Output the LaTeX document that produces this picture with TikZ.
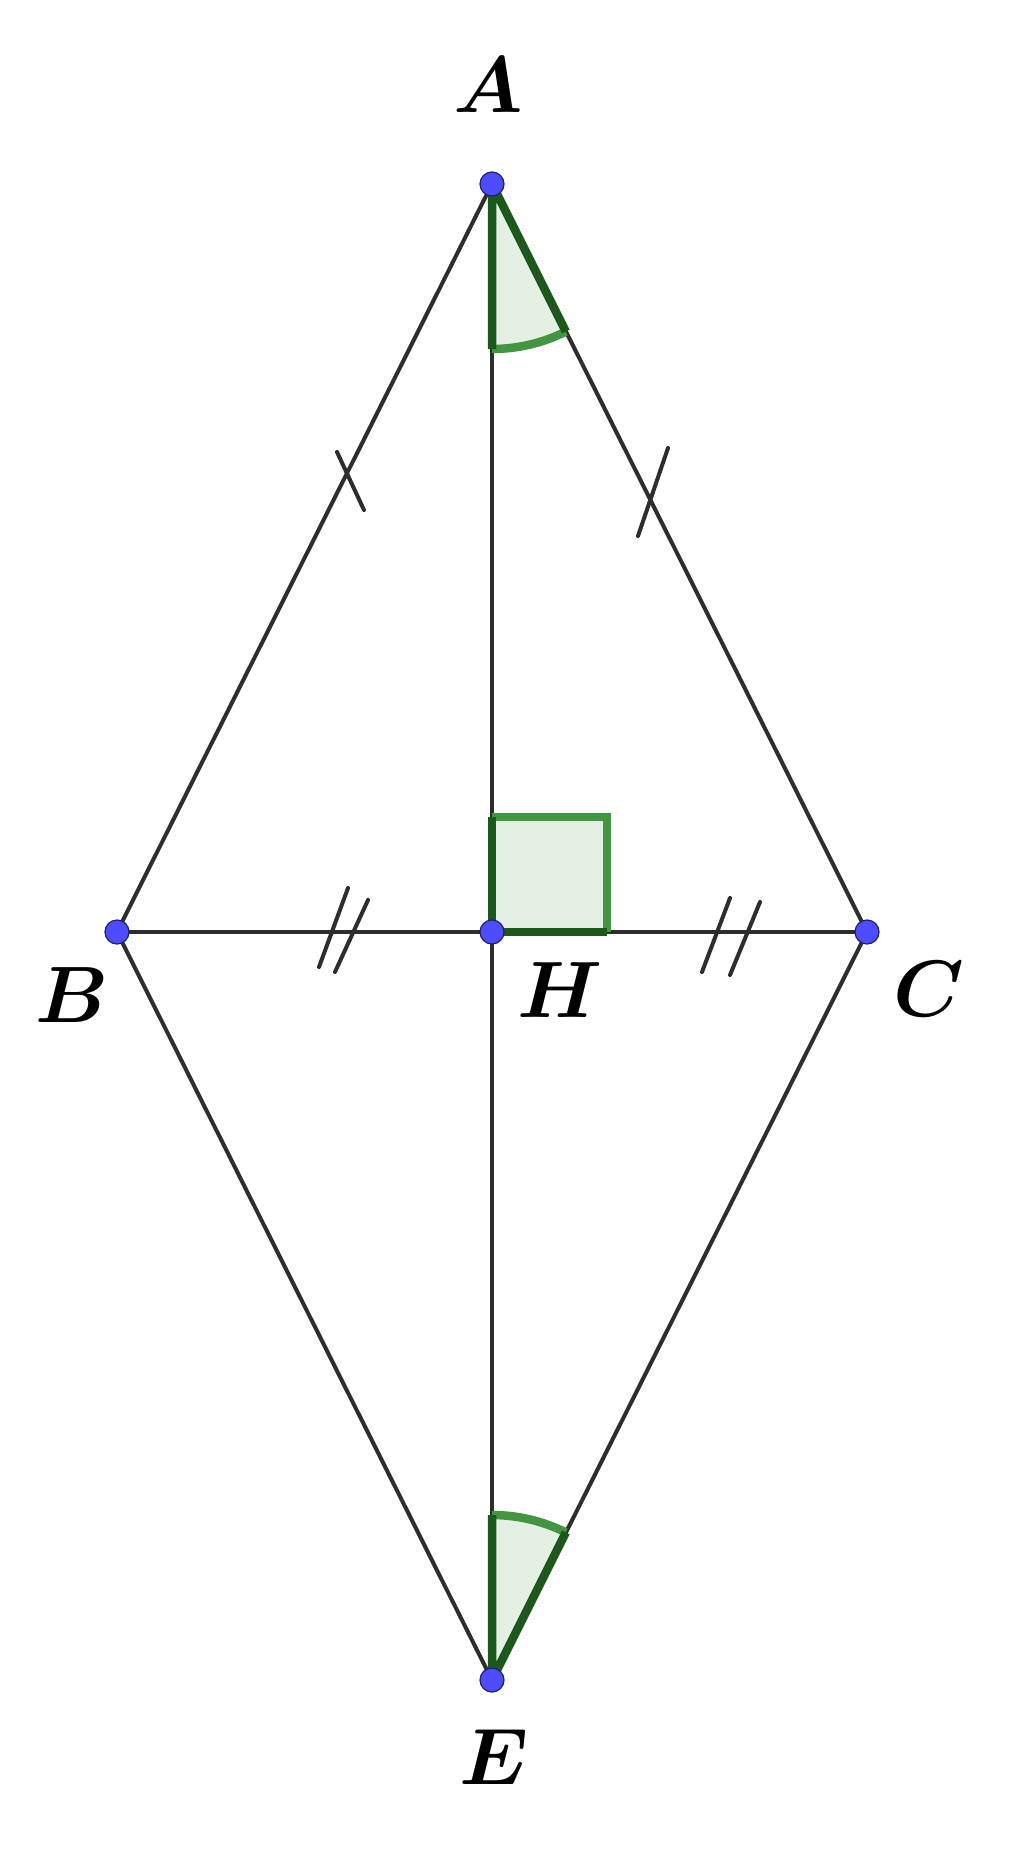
\RequirePackage{fix-cm}
\documentclass[tikz,border=0pt]{standalone}
\usepackage{amsmath}
\definecolor{linegray}{RGB}{45,45,45}
\definecolor{anglefill}{RGB}{229,240,229}
\definecolor{anglegreen}{RGB}{66,150,66}
\definecolor{angledark}{RGB}{28,88,28}
\definecolor{ptblue}{RGB}{77,77,255}
\definecolor{ptedge}{RGB}{30,30,110}
\begin{document}
\begin{tikzpicture}[x=0.5pt,y=-0.5pt,
  seg/.style={draw=linegray,line width=2pt},
  tickmark/.style={draw=linegray,line width=2pt,line cap=round},
  arcline/.style={draw=anglegreen,line width=4.25pt},
  edgeline/.style={draw=angledark,line width=4.25pt,line join=round},
  pt/.style={circle,fill=ptblue,draw=ptedge,line width=0.6pt,minimum size=12pt,inner sep=0pt},
  lbl/.style={inner sep=0pt,font=\fontsize{40}{42}\selectfont}]
\path[use as bounding box] (0,0) rectangle (1024,1857);
\coordinate (A) at (492,184);
\coordinate (B) at (117,932);
\coordinate (C) at (867,932);
\coordinate (H) at (492,932);
\coordinate (E) at (492,1680);
\path (A) ++(-90:82.5pt) coordinate (A1);
\path (A) ++(-63.43:82.5pt) coordinate (A2);
\path (E) ++(90:82.5pt) coordinate (E1);
\path (E) ++(63.43:82.5pt) coordinate (E2);
\coordinate (S1) at (492,817);
\coordinate (S2) at (607,817);
\coordinate (S3) at (607,932);
% angle fills
\fill[anglefill] (A) -- (A1) arc[start angle=-90,end angle=-63.43,radius=82.5pt] -- cycle;
\fill[anglefill] (E) -- (E1) arc[start angle=90,end angle=63.43,radius=82.5pt] -- cycle;
\fill[anglefill] (H) -- (S1) -- (S2) -- (S3) -- cycle;
% segments
\draw[seg] (A) -- (B);
\draw[seg] (A) -- (C);
\draw[seg] (B) -- (E);
\draw[seg] (C) -- (E);
\draw[seg] (B) -- (C);
\draw[seg] (A) -- (E);
% tick marks
\draw[tickmark] (337,452) -- (364,510);
\draw[tickmark] (668,448) -- (638,536);
\draw[tickmark] (348,888) -- (319,967);
\draw[tickmark] (368,900) -- (335,972);
\draw[tickmark] (730,898) -- (702,972);
\draw[tickmark] (760,902) -- (730,975);
% angle marks
\draw[arcline] (A1) arc[start angle=-90,end angle=-63.43,radius=82.5pt];
\draw[edgeline] (A1) -- (A) -- (A2);
\draw[arcline] (E1) arc[start angle=90,end angle=63.43,radius=82.5pt];
\draw[edgeline] (E1) -- (E) -- (E2);
\draw[arcline,line join=miter] (S1) -- (S2) -- (S3);
\draw[edgeline] (S1) -- (H) -- (S3);
% points
\node[pt] (pA) at (A) {};
\node[pt] (pB) at (B) {};
\node[pt] (pC) at (C) {};
\node[pt] (pH) at (H) {};
\node[pt] (pE) at (E) {};
% labels
\node[lbl] (lA) at (488,85) {$\boldsymbol{A}$};
\node[lbl] (lB) at (72,995) {$\boldsymbol{B}$};
\node[lbl] (lH) at (560,990) {$\boldsymbol{H}$};
\node[lbl] (lC) at (929,989) {$\boldsymbol{C}$};
\node[lbl] (lE) at (494,1757) {$\boldsymbol{E}$};
\end{tikzpicture}
\end{document}
